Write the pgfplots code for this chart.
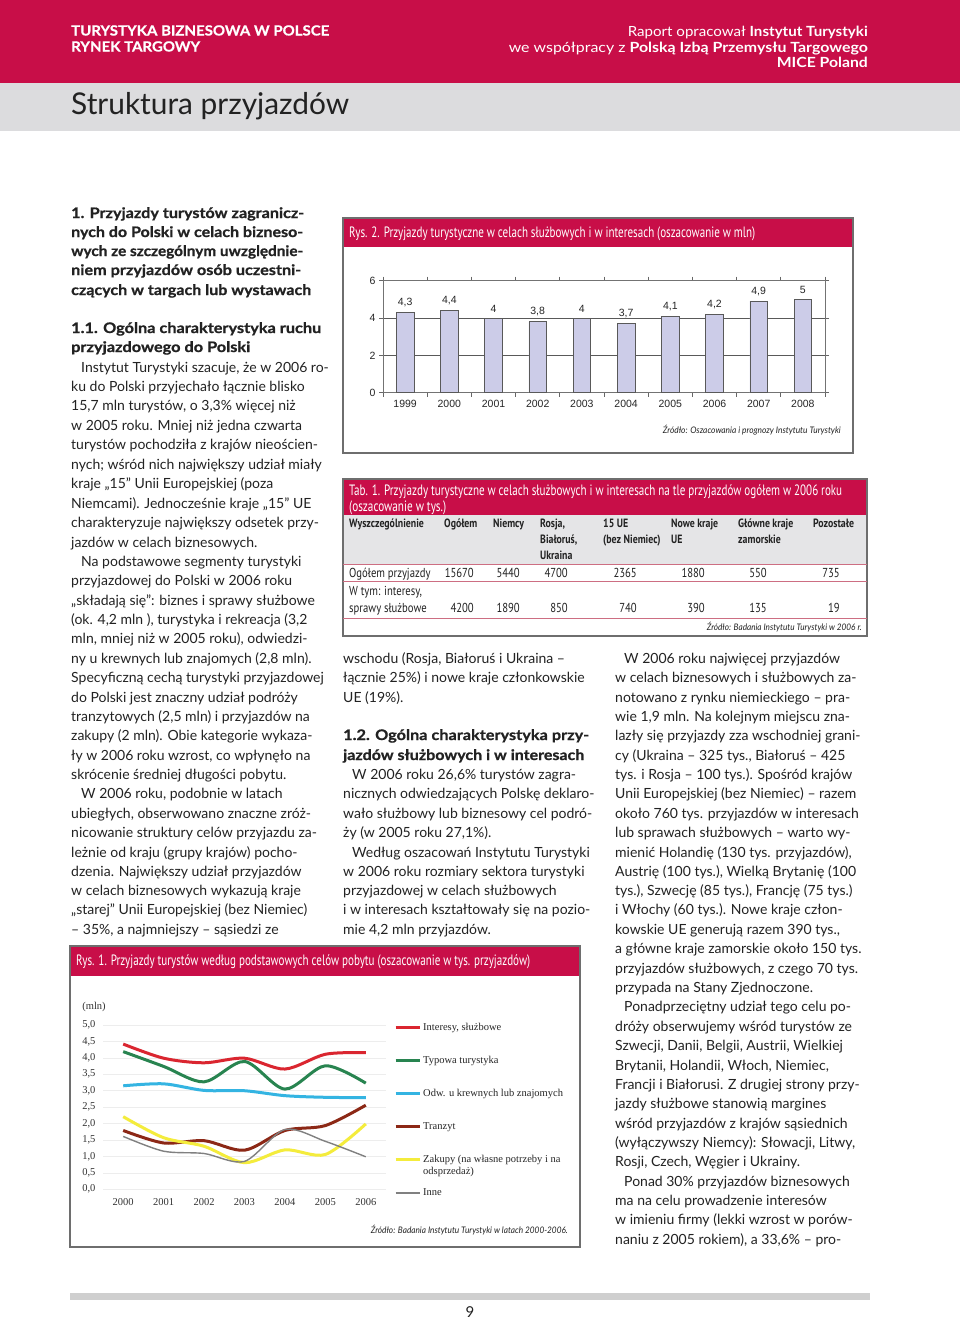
\documentclass[border=0pt]{standalone}
\usepackage{fontspec}
\usepackage{graphicx}
\usepackage{pgfplots}
\pgfplotsset{compat=1.18}
\setmainfont{Lato}
\newfontfamily\cnd{PT Sans}
\newfontfamily\arl{Liberation Sans}
\newfontfamily\tms{Liberation Serif}
\definecolor{crim}{RGB}{200,14,72}
\definecolor{hdrgray}{RGB}{220,220,222}
\definecolor{txt}{RGB}{34,34,34}
\definecolor{barfill}{RGB}{204,204,232}
\definecolor{tabline}{RGB}{205,110,130}
\definecolor{tabhead}{RGB}{229,229,231}
\definecolor{boxline}{RGB}{110,110,110}
\definecolor{lred}{RGB}{218,38,48}
\definecolor{lgreen}{RGB}{40,132,80}
\definecolor{lcyan}{RGB}{52,180,226}
\definecolor{lbrown}{RGB}{140,40,22}
\definecolor{lyellow}{RGB}{244,236,60}
\definecolor{lgray}{RGB}{128,128,128}
\newsavebox\fwbox
\newcommand\fw[2]{\sbox\fwbox{#2}\resizebox{#1pt}{\ht\fwbox}{\usebox\fwbox}}
\newcommand\bodyf{\fontsize{14}{16}\selectfont}
\newcommand\headf{\bfseries\addfontfeature{FakeBold=0.8}\fontsize{14.5}{17}\selectfont}
\newcommand\tl[3]{\node[anchor=base west,inner sep=0pt,text=txt,font=\bodyf] at (#1,{-(#2+5)}) {#3};}
\newcommand\hl[4]{\node[anchor=base west,inner sep=0pt,text=txt,font=\headf] at (#1,{-(#2+5)}) {\fw{#3}{#4}};}
\newcommand\cc[1]{\scalebox{0.82}[1]{#1}}
\newcommand\thd[3]{\node[anchor=base west,inner sep=0pt,text=txt,font=\cnd\bfseries\fontsize{12}{14}\selectfont] at (#1,{-(#2+4.5)}) {\cc{#3}};}
\newcommand\tdl[3]{\node[anchor=base west,inner sep=0pt,text=txt,font=\cnd\fontsize{13}{15}\selectfont] at (#1,{-(#2+4.5)}) {\cc{#3}};}
\newcommand\tdr[3]{\node[anchor=base east,inner sep=0pt,text=txt,font=\cnd\fontsize{13}{15}\selectfont] at (#1,{-(#2+4.5)}) {\cc{#3}};}
\begin{document}
\begin{tikzpicture}[x=1pt,y=1pt]
\fill[white] (0,0) rectangle (960,-1320);
\useasboundingbox (0,0) rectangle (960,-1320);
% header
\fill[crim] (0,0) rectangle (960,-83);
\fill[hdrgray] (0,-83) rectangle (960,-131);
\node[anchor=base west,inner sep=0pt,text=white,font=\bfseries\addfontfeature{FakeBold=0.6}\fontsize{14}{16}\selectfont] at (71,-35.5) {\fw{258}{TURYSTYKA BIZNESOWA W POLSCE}};
\node[anchor=base west,inner sep=0pt,text=white,font=\bfseries\addfontfeature{FakeBold=0.6}\fontsize{14}{16}\selectfont] at (71,-51.5) {\fw{129}{RYNEK TARGOWY}};
\node[anchor=base east,inner sep=0pt,text=white,font=\fontsize{14}{16}\selectfont] at (868,-36) {\fw{240}{Raport opracował \textbf{Instytut Turystyki}}};
\node[anchor=base east,inner sep=0pt,text=white,font=\fontsize{14}{16}\selectfont] at (868,-52) {\fw{359}{we współpracy z \textbf{Polską Izbą Przemysłu Targowego}}};
\node[anchor=base east,inner sep=0pt,text=white,font=\fontsize{14}{16}\selectfont] at (868,-67.5) {\fw{91}{\textbf{MICE Poland}}};
\node[anchor=base west,inner sep=0pt,text=txt,font=\fontsize{30}{34}\selectfont] at (71,-114) {\fw{278}{Struktura przyjazdów}};
% left column
\hl{71}{213}{233}{1. Przyjazdy turystów zagranicz-}
\hl{71}{232}{232}{nych do Polski w celach bizneso-}
\hl{71}{251}{232}{wych ze szczególnym uwzględnie-}
\hl{71}{270}{230}{niem przyjazdów osób uczestni-}
\hl{71}{290}{240}{czących w targach lub wystawach}
\hl{71}{328}{250}{1.1. Ogólna charakterystyka ruchu}
\hl{71}{347}{179}{przyjazdowego do Polski}
\tl{81}{367}{Instytut Turystyki szacuje, że w 2006 ro-}
\tl{71}{386}{ku do Polski przyjechało łącznie blisko}
\tl{71}{405}{15,7 mln turystów, o 3,3\% więcej niż}
\tl{71}{425}{w 2005 roku. Mniej niż jedna czwarta}
\tl{71}{444}{turystów pochodziła z krajów nieościen-}
\tl{71}{464}{nych; wśród nich największy udział miały}
\tl{71}{483}{kraje „15” Unii Europejskiej (poza}
\tl{71}{503}{Niemcami). Jednocześnie kraje „15” UE}
\tl{71}{522}{charakteryzuje największy odsetek przy-}
\tl{71}{542}{jazdów w celach biznesowych.}
\tl{81}{561}{Na podstawowe segmenty turystyki}
\tl{71}{580}{przyjazdowej do Polski w 2006 roku}
\tl{71}{600}{„składają się”: biznes i sprawy służbowe}
\tl{71}{619}{(ok. 4,2 mln ), turystyka i rekreacja (3,2}
\tl{71}{638}{mln, mniej niż w 2005 roku), odwiedzi-}
\tl{71}{658}{ny u krewnych lub znajomych (2,8 mln).}
\tl{71}{677}{Specyficzną cechą turystyki przyjazdowej}
\tl{71}{697}{do Polski jest znaczny udział podróży}
\tl{71}{716}{tranzytowych (2,5 mln) i przyjazdów na}
\tl{71}{735}{zakupy (2 mln). Obie kategorie wykaza-}
\tl{71}{755}{ły w 2006 roku wzrost, co wpłynęło na}
\tl{71}{774}{skrócenie średniej długości pobytu.}
\tl{81}{793}{W 2006 roku, podobnie w latach}
\tl{71}{813}{ubiegłych, obserwowano znaczne zróż-}
\tl{71}{832}{nicowanie struktury celów przyjazdu za-}
\tl{71}{852}{leżnie od kraju (grupy krajów) pocho-}
\tl{71}{871}{dzenia. Największy udział przyjazdów}
\tl{71}{890}{w celach biznesowych wykazują kraje}
\tl{71}{909}{„starej” Unii Europejskiej (bez Niemiec)}
\tl{71}{929}{– 35\%, a najmniejszy – sąsiedzi ze}
% middle column
\tl{343}{658}{wschodu (Rosja, Białoruś i Ukraina –}
\tl{343}{677}{łącznie 25\%) i nowe kraje członkowskie}
\tl{343}{697}{UE (19\%).}
\hl{343}{735}{246}{1.2. Ogólna charakterystyka przy-}
\hl{343}{755}{241}{jazdów służbowych i w interesach}
\tl{352}{774}{W 2006 roku 26,6\% turystów zagra-}
\tl{343}{793}{nicznych odwiedzających Polskę deklaro-}
\tl{343}{813}{wało służbowy lub biznesowy cel podró-}
\tl{343}{832}{ży (w 2005 roku 27,1\%).}
\tl{352}{852}{Według oszacowań Instytutu Turystyki}
\tl{343}{871}{w 2006 roku rozmiary sektora turystyki}
\tl{343}{890}{przyjazdowej w celach służbowych}
\tl{343}{909}{i w interesach kształtowały się na pozio-}
\tl{343}{929}{mie 4,2 mln przyjazdów.}
% right column
\tl{624}{658}{W 2006 roku najwięcej przyjazdów}
\tl{615}{677}{w celach biznesowych i służbowych za-}
\tl{615}{697}{notowano z rynku niemieckiego – pra-}
\tl{615}{716}{wie 1,9 mln. Na kolejnym miejscu zna-}
\tl{615}{735}{lazły się przyjazdy zza wschodniej grani-}
\tl{615}{755}{cy (Ukraina – 325 tys., Białoruś – 425}
\tl{615}{774}{tys. i Rosja – 100 tys.). Spośród krajów}
\tl{615}{793}{Unii Europejskiej (bez Niemiec) – razem}
\tl{615}{813}{około 760 tys. przyjazdów w interesach}
\tl{615}{832}{lub sprawach służbowych – warto wy-}
\tl{615}{852}{mienić Holandię (130 tys. przyjazdów),}
\tl{615}{871}{Austrię (100 tys.), Wielką Brytanię (100}
\tl{615}{890}{tys.), Szwecję (85 tys.), Francję (75 tys.)}
\tl{615}{909}{i Włochy (60 tys.). Nowe kraje człon-}
\tl{615}{929}{kowskie UE generują razem 390 tys.,}
\tl{615}{948}{a główne kraje zamorskie około 150 tys.}
\tl{615}{968}{przyjazdów służbowych, z czego 70 tys.}
\tl{615}{987}{przypada na Stany Zjednoczone.}
\tl{624}{1006}{Ponadprzeciętny udział tego celu po-}
\tl{615}{1026}{dróży obserwujemy wśród turystów ze}
\tl{615}{1045}{Szwecji, Danii, Belgii, Austrii, Wielkiej}
\tl{615}{1065}{Brytanii, Holandii, Włoch, Niemiec,}
\tl{615}{1084}{Francji i Białorusi. Z drugiej strony przy-}
\tl{615}{1103}{jazdy służbowe stanowią margines}
\tl{615}{1123}{wśród przyjazdów z krajów sąsiednich}
\tl{615}{1142}{(wyłączywszy Niemcy): Słowacji, Litwy,}
\tl{615}{1161}{Rosji, Czech, Węgier i Ukrainy.}
\tl{624}{1181}{Ponad 30\% przyjazdów biznesowych}
\tl{615}{1200}{ma na celu prowadzenie interesów}
\tl{615}{1219}{w imieniu firmy (lekki wzrost w porów-}
\tl{615}{1239}{naniu z 2005 rokiem), a 33,6\% – pro-}
% ---------- Rys. 2 box ----------
\fill[crim] (343,-218) rectangle (853,-247);
\draw[boxline,line width=1.3pt] (343,-218) rectangle (853,-453);
\node[anchor=base west,inner sep=0pt,text=white,font=\cnd\fontsize{15}{17}\selectfont] at (349,-237) {\fw{406}{Rys. 2. Przyjazdy turystyczne w celach służbowych i w interesach (oszacowanie w mln)}};
\node[anchor=base east,inner sep=0pt,text=txt,font=\itshape\fontsize{9}{10}\selectfont] at (841,-433) {\fw{178}{Źródło: Oszacowania i prognozy Instytutu Turystyki}};
\begin{axis}[
  at={(383pt,-392.7pt)}, anchor=south west,
  scale only axis, width=442pt, height=112pt,
  xmin=-0.5, xmax=9.5, ymin=0, ymax=6,
  ybar, bar width=17.7pt,
  xtick={0,1,2,3,4,5,6,7,8,9},
  xticklabels={1999,2000,2001,2002,2003,2004,2005,2006,2007,2008},
  major x tick style={draw=none},
  minor xtick={-0.5,0.5,1.5,2.5,3.5,4.5,5.5,6.5,7.5,8.5,9.5},
  ytick={0,2,4,6},
  tick align=outside, major tick length=4pt, minor tick length=4pt,
  ymajorgrids, grid style={black!65,line width=0.8pt},
  axis line style={black!55,line width=0.8pt},
  tick style={black!60,line width=0.8pt},
  ticklabel style={font=\arl\fontsize{10.5}{12}\selectfont, text=black!85},
  nodes near coords,
  every node near coord/.append style={font=\arl\fontsize{10.5}{12}\selectfont, text=black!85, yshift=2pt},
  /pgf/number format/use comma,
  /pgf/number format/assume math mode=true,
]
\addplot[fill=barfill, draw=black!65, line width=0.6pt] coordinates {(0,4.3) (1,4.4) (2,4) (3,3.8) (4,4) (5,3.7) (6,4.1) (7,4.2) (8,4.9) (9,5)};
\end{axis}
% ---------- Tab. 1 ----------
\fill[crim] (343,-479) rectangle (867,-515);
\fill[tabhead] (343,-515) rectangle (867,-564);
\draw[boxline,line width=1.3pt] (343,-479) rectangle (867,-636);
\node[anchor=base west,inner sep=0pt,text=white,font=\cnd\fontsize{15}{17}\selectfont] at (349,-495) {\fw{493}{Tab. 1. Przyjazdy turystyczne w celach służbowych i w interesach na tle przyjazdów ogółem w 2006 roku}};
\node[anchor=base west,inner sep=0pt,text=white,font=\cnd\fontsize{15}{17}\selectfont] at (349,-511) {\fw{97}{(oszacowanie w tys.)}};
\draw[tabline,line width=0.8pt] (343,-564) -- (867,-564);
\draw[tabline,line width=0.8pt] (343,-581) -- (867,-581);
\draw[tabline,line width=0.8pt] (343,-618) -- (867,-618);
\thd{349}{523}{Wyszczególnienie}
\thd{444}{523}{Ogółem}
\thd{493}{523}{Niemcy}
\thd{540}{523}{Rosja,}
\thd{540}{539}{Białoruś,}
\thd{540}{555}{Ukraina}
\thd{603}{523}{15 UE}
\thd{603}{539}{(bez Niemiec)}
\thd{671}{523}{Nowe kraje}
\thd{671}{539}{UE}
\thd{738}{523}{Główne kraje}
\thd{738}{539}{zamorskie}
\thd{813}{523}{Pozostałe}
\tdl{349}{573}{Ogółem przyjazdy}
\tdr{474}{573}{15670}
\tdr{520}{573}{5440}
\tdr{568}{573}{4700}
\tdr{637}{573}{2365}
\tdr{705}{573}{1880}
\tdr{767}{573}{550}
\tdr{840}{573}{735}
\tdl{349}{591}{W tym: interesy,}
\tdl{349}{608}{sprawy służbowe}
\tdr{474}{608}{4200}
\tdr{520}{608}{1890}
\tdr{568}{608}{850}
\tdr{637}{608}{740}
\tdr{705}{608}{390}
\tdr{767}{608}{135}
\tdr{840}{608}{19}
\node[anchor=base east,inner sep=0pt,text=txt,font=\itshape\fontsize{9}{10}\selectfont] at (862,-630) {\fw{155}{Źródło: Badania Instytutu Turystyki w 2006 r.}};
% ---------- Rys. 1 box ----------
\fill[crim] (70,-946) rectangle (580,-976);
\draw[boxline,line width=1.3pt] (70,-946) rectangle (580,-1247);
\node[anchor=base west,inner sep=0pt,text=white,font=\cnd\fontsize{15}{17}\selectfont] at (76,-965) {\fw{454}{Rys. 1. Przyjazdy turystów według podstawowych celów pobytu (oszacowanie w tys. przyjazdów)}};
\node[anchor=base east,inner sep=0pt,text=txt,font=\itshape\fontsize{9}{10}\selectfont] at (568,-1233) {\fw{197}{Źródło: Badania Instytutu Turystyki w latach 2000-2006.}};
\node[inner sep=0pt,text=black!80,font=\tms\fontsize{10.5}{12}\selectfont] at (94,-1007) {(mln)};
\begin{axis}[
  at={(103pt,-1189.3pt)}, anchor=south west,
  scale only axis, width=283pt, height=164.3pt,
  xmin=1999.5, xmax=2006.5, ymin=0, ymax=5,
  xtick={2000,2001,2002,2003,2004,2005,2006},
  ytick={0,0.5,1,1.5,2,2.5,3,3.5,4,4.5,5},
  axis line style={draw=none}, major tick length=0pt,
  ymajorgrids, grid style={black!7,line width=0.6pt},
  ticklabel style={font=\tms\fontsize{10.5}{12}\selectfont, text=black!80},
  /pgf/number format/assume math mode=true,
  yticklabel={\pgfmathprintnumber[fixed,fixed zerofill,precision=1,use comma,assume math mode=true]{\tick}},
  xticklabel={\pgfmathprintnumber[fixed,precision=0,1000 sep={},assume math mode=true]{\tick}},
  y tick label style={xshift=-4pt},
  x tick label style={yshift=-6pt},
  legend style={draw=none, fill=none, at={(1,1)}, anchor=north west, xshift=5pt, yshift=6.5pt,
    row sep=18.5pt, font=\tms\fontsize{10.5}{12}\selectfont, text=black!85,
    nodes={inner sep=2pt, text height=8pt, text depth=2.5pt}},
  legend cell align=left,
  legend image code/.code={\draw[#1] (0pt,0pt) -- (24pt,0pt);},
]
\addplot[smooth, tension=0.5, color=lred, line width=3pt] coordinates {(2000,4.42) (2001,3.99) (2002,3.85) (2003,3.99) (2004,3.66) (2005,4.11) (2006,4.16)};
\addlegendentry{Interesy, służbowe}
\addplot[smooth, tension=0.5, color=lgreen, line width=3pt] coordinates {(2000,4.19) (2001,3.74) (2002,3.27) (2003,3.89) (2004,3.05) (2005,3.76) (2006,3.23)};
\addlegendentry{Typowa turystyka}
\addplot[smooth, tension=0.5, color=lcyan, line width=3pt] coordinates {(2000,3.15) (2001,3.21) (2002,3.01) (2003,3.0) (2004,2.85) (2005,2.8) (2006,2.79)};
\addlegendentry{Odw. u krewnych lub znajomych}
\addplot[smooth, tension=0.5, color=lbrown, line width=3pt] coordinates {(2000,1.79) (2001,1.41) (2002,1.48) (2003,1.19) (2004,1.79) (2005,1.94) (2006,2.56)};
\addlegendentry{Tranzyt}
\addplot[smooth, tension=0.5, color=lyellow, line width=3pt] coordinates {(2000,2.21) (2001,1.57) (2002,1.31) (2003,0.81) (2004,1.2) (2005,1.06) (2006,1.99)};
\addlegendentry{\smash{\begin{tabular}[t]{@{}l@{}}Zakupy (na własne potrzeby i na\\odsprzedaż)\end{tabular}}}
\addplot[smooth, tension=0.5, color=lgray, line width=1.4pt] coordinates {(2000,1.61) (2001,1.16) (2002,1.09) (2003,0.85) (2004,1.82) (2005,1.46) (2006,0.99)};
\addlegendentry{Inne}
\end{axis}
% footer
\fill[black!19] (70,-1293) rectangle (870,-1299.5);
\node[inner sep=0pt,text=txt,font=\fontsize{15}{17}\selectfont] at (470,-1312) {9};
\end{tikzpicture}
\end{document}
